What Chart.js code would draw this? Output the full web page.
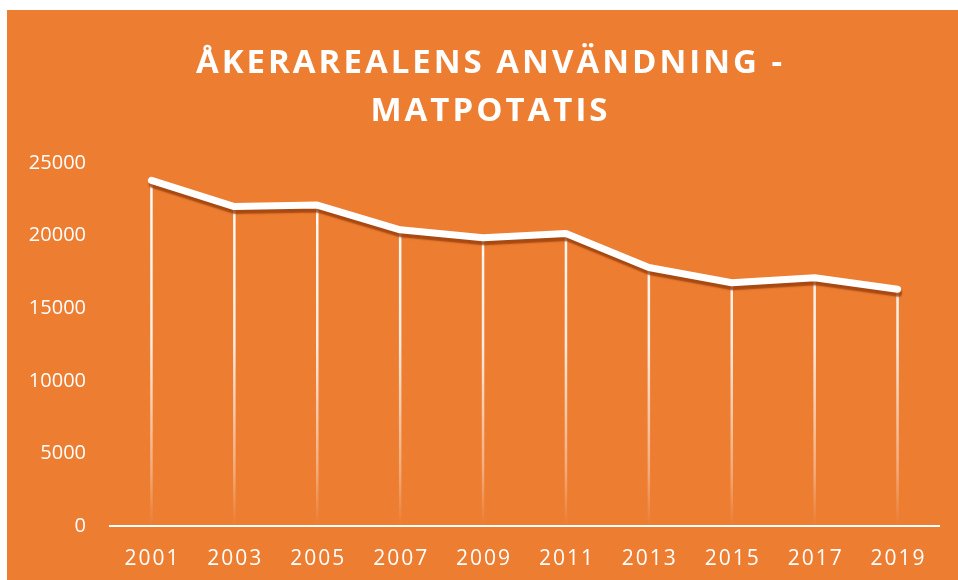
<!DOCTYPE html>
<html>
<head>
<meta charset="utf-8">
<script src="https://cdn.jsdelivr.net/npm/chart.js@4"></script>
<style>
  body { margin: 0; background: #fff; }
  #panel { position: absolute; left: 7px; top: 10px; width: 951px; height: 570px; background: #ED7D31; }
  #title {
    position: absolute; left: 8px; top: 27px; width: 951px;
    text-align: center; color: #fff;
    font-family: "Open Sans", sans-serif; font-weight: 700;
    font-size: 33px; line-height: 48px; letter-spacing: 3px;
  }
  #chartBox { position: absolute; left: 0; top: 0; width: 951px; height: 570px; }
</style>
</head>
<body>
<div id="panel">
  <canvas id="chartBox" width="951" height="570"></canvas>
  <div id="title">ÅKERAREALENS ANVÄNDNING -<br>MATPOTATIS</div>
</div>
<script>
// Data
const years = ['2001', '2003', '2005', '2007', '2009', '2011', '2013', '2015', '2017', '2019'];
const hectares = [23800, 22000, 22100, 20400, 19850, 20150, 17800, 16750, 17100, 16300];
const yTicks = [0, 5000, 10000, 15000, 20000, 25000];

const ctx = document.getElementById('chartBox').getContext('2d');

// shadow under the white line
const lineShadow = {
    id: 'lineShadow',
    beforeDatasetDraw(chart) {
        const c = chart.ctx;
        c.save();
        c.shadowColor = 'rgba(150, 60, 10, 0.8)';
        c.shadowOffsetX = 1;
        c.shadowOffsetY = 4;
        c.shadowBlur = 1.5;
    },
    afterDatasetDraw(chart) {
        chart.ctx.restore();
    }
};

// vertical drop lines from each point down to the axis, fading out
const dropLines = {
    id: 'dropLines',
    beforeDatasetsDraw(chart) {
        const c = chart.ctx;
        const area = chart.chartArea;
        const meta = chart.getDatasetMeta(0);
        const grad = c.createLinearGradient(0, area.top, 0, area.bottom);
        grad.addColorStop(0, 'rgba(255,255,255,1)');
        grad.addColorStop(0.5, 'rgba(255,255,255,0.85)');
        grad.addColorStop(0.85, 'rgba(255,255,255,0.35)');
        grad.addColorStop(1, 'rgba(255,255,255,0)');
        c.save();
        c.strokeStyle = grad;
        c.lineWidth = 2.5;
        meta.data.forEach(pt => {
            c.beginPath();
            c.moveTo(pt.x, pt.y);
            c.lineTo(pt.x, area.bottom);
            c.stroke();
        });
        c.restore();
    }
};

// spaced-out year labels on the x axis
const spacedXLabels = {
    id: 'spacedXLabels',
    afterLayout(chart) {
        const sc = chart.scales.x;
        if (sc._spaced) return;
        const orig = sc.drawLabels;
        sc.drawLabels = function (area) {
            const c = this.ctx;
            c.save();
            c.letterSpacing = '2px';
            c.translate(1, 0);
            orig.call(this, area);
            c.restore();
        };
        sc._spaced = true;
    }
};

const chart = new Chart(ctx, {
    type: 'line',
    data: {
        labels: years,
        datasets: [{
            label: 'Matpotatis',
            data: hectares,
            borderColor: '#ffffff',
            borderWidth: 7,
            borderCapStyle: 'round',
            borderJoinStyle: 'round',
            pointRadius: 0,
            tension: 0
        }]
    },
    options: {
        responsive: false,
        animation: false,
        layout: { padding: { top: 153, right: 19, bottom: 0, left: 0 } },
        plugins: {
            legend: { display: false },
            title: { display: false },
            tooltip: { enabled: false }
        },
        scales: {
            x: {
                offset: true,
                grid: { display: false, drawTicks: false },
                border: { display: true, color: '#ffffff', width: 2 },
                afterFit(scale) { scale.height = 54; },
                ticks: {
                    color: '#ffffff',
                    padding: 20,
                    maxRotation: 0,
                    font: { family: 'Open Sans', size: 21 }
                }
            },
            y: {
                min: 0,
                max: 25000,
                afterBuildTicks(scale) { scale.ticks = yTicks.map(v => ({ value: v })); },
                grid: { display: false, drawTicks: false },
                border: { display: false },
                afterFit(scale) { scale.width = 103; },
                ticks: {
                    color: '#ffffff',
                    padding: 24,
                    font: { family: 'Open Sans', size: 20 },
                    callback: v => String(v)
                }
            }
        }
    },
    plugins: [dropLines, lineShadow, spacedXLabels]
});
</script>
</body>
</html>
